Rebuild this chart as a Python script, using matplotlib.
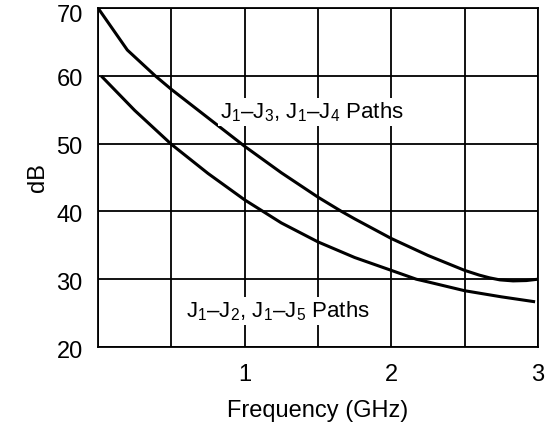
import matplotlib.pyplot as plt
from matplotlib.transforms import ScaledTranslation

plt.rcParams['font.family'] = ['Liberation Sans', 'DejaVu Sans']
plt.rcParams['mathtext.fontset'] = 'custom'
plt.rcParams['mathtext.rm'] = 'Liberation Sans'
plt.rcParams['mathtext.it'] = 'Liberation Sans:italic'

# upper curve: J1-J3, J1-J4 paths
f_upper = [0, 0.2, 0.39, 0.5, 0.75, 1.0, 1.25, 1.5, 1.66, 1.75, 2.0, 2.25, 2.5, 2.6, 2.67, 2.74, 2.83, 2.92, 3.0]
db_upper = [70, 63.8, 60.0, 58.0, 53.8, 49.6, 45.7, 42.1, 40.0, 38.9, 36.0, 33.5, 31.3, 30.6, 30.2, 29.9, 29.75, 29.8, 30.0]

# lower curve: J1-J2, J1-J5 paths
f_lower = [0.03, 0.25, 0.5, 0.75, 1.0, 1.25, 1.5, 1.75, 2.0, 2.17, 2.25, 2.5, 2.75, 2.97]
db_lower = [59.8, 54.9, 49.9, 45.6, 41.7, 38.3, 35.5, 33.2, 31.3, 30.0, 29.6, 28.3, 27.4, 26.7]

xticks = [0, 0.5, 1, 1.5, 2, 2.5, 3]
xlabels = ['', '', '1', '', '2', '', '3']
yticks = [20, 30, 40, 50, 60, 70]

fig = plt.figure(figsize=(5.53, 4.25), dpi=100)
ax = fig.add_axes([98/553, 1 - 347/425, 440/553, 339/425])

ax.plot(f_upper, db_upper, color='black', lw=2.2, zorder=3)
ax.plot(f_lower, db_lower, color='black', lw=2.2, zorder=3)

ax.set_xlim(0, 3)
ax.set_ylim(20, 70)
ax.set_xticks(xticks)
ax.set_xticklabels(xlabels)
ax.set_yticks(yticks)
ax.tick_params(length=0, labelsize=17)
ax.tick_params(axis='x', pad=12)
ax.tick_params(axis='y', pad=11)
ax.grid(True, color='black', lw=1.3)
for s in ax.spines.values():
    s.set_linewidth(1.3)

# tick labels sit a little below their grid lines; the top one more so
for lab in ax.get_yticklabels():
    dy = -5 if lab.get_text() == '70' else -2
    lab.set_transform(lab.get_transform() + ScaledTranslation(0, dy / 100, fig.dpi_scale_trans))

ax.set_xlabel('Frequency (GHz)', fontsize=17, labelpad=10)
ax.set_ylabel('dB', fontsize=17, labelpad=5)

box = dict(facecolor='white', edgecolor='none', pad=1.5)
ax.text(1.46, 54.7, r'J$_1$–J$_3$, J$_1$–J$_4$ Paths', fontsize=16,
        ha='center', va='center', bbox=box, zorder=4)
ax.text(1.23, 25.3, r'J$_1$–J$_2$, J$_1$–J$_5$ Paths', fontsize=16,
        ha='center', va='center', bbox=box, zorder=4)

plt.savefig('out.png', dpi=100)
plt.close()
